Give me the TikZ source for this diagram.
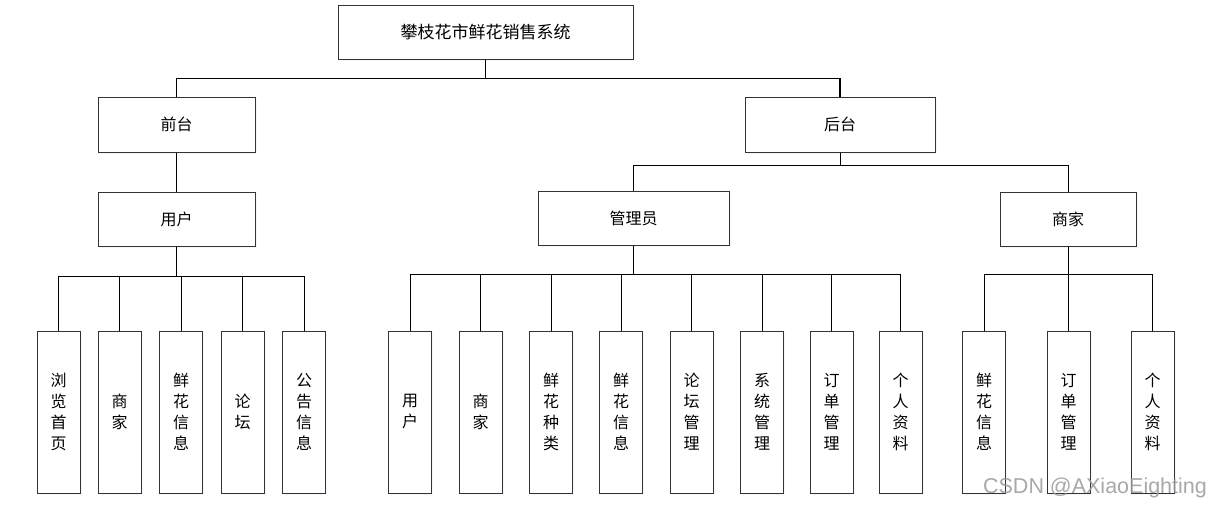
\documentclass[tikz,border=0pt]{standalone}
\usepackage{fontspec}
\setmainfont{Noto Sans CJK SC}
\newfontfamily\wmfont{Liberation Sans}
\usetikzlibrary{shadows}
\begin{document}
\begin{tikzpicture}[x=1pt,y=-1pt,
  box/.style={draw=black!80, line width=1pt, fill=white, inner sep=0pt, align=center,
    drop shadow={shadow xshift=1.5pt, shadow yshift=-1.5pt, fill=blue!5, opacity=0.7},
    font=\fontsize{16pt}{21pt}\selectfont},
  leaf/.style={box, minimum width=43pt, minimum height=162pt},
  link/.style={draw=black, line width=1pt},
  thick link/.style={draw=black, line width=1.8pt}
]
\useasboundingbox (0,0) rectangle (1212,507);
% top level
\node[box, minimum width=295pt, minimum height=54pt, font=\fontsize{17pt}{20pt}\selectfont] (root) at (485.5,32) {攀枝花市鲜花销售系统};
\node[box, minimum width=157pt, minimum height=55pt] (qt) at (176.5,124.5) {前台};
\node[box, minimum width=190pt, minimum height=55pt] (ht) at (840,124.5) {后台};
\node[box, minimum width=157pt, minimum height=54pt] (yh) at (176.5,219) {用户};
\node[box, minimum width=191pt, minimum height=54pt] (gly) at (633.5,218.5) {管理员};
\node[box, minimum width=136pt, minimum height=54pt] (sj) at (1068,219.5) {商家};
% user leaves
\node[leaf] (u1) at (58.5,412) {浏\\览\\首\\页};
\node[leaf] (u2) at (119.5,412) {商\\家};
\node[leaf] (u3) at (181,412) {鲜\\花\\信\\息};
\node[leaf] (u4) at (242.5,412) {论\\坛};
\node[leaf] (u5) at (304,412) {公\\告\\信\\息};
% admin leaves
\node[leaf] (a1) at (410,412) {用\\户};
\node[leaf] (a2) at (480.5,412) {商\\家};
\node[leaf] (a3) at (551,412) {鲜\\花\\种\\类};
\node[leaf] (a4) at (621,412) {鲜\\花\\信\\息};
\node[leaf] (a5) at (691.5,412) {论\\坛\\管\\理};
\node[leaf] (a6) at (762,412) {系\\统\\管\\理};
\node[leaf] (a7) at (831.5,412) {订\\单\\管\\理};
\node[leaf] (a8) at (900.5,412) {个\\人\\资\\料};
% merchant leaves
\node[leaf] (m1) at (984,412) {鲜\\花\\信\\息};
\node[leaf] (m2) at (1068.5,412) {订\\单\\管\\理};
\node[leaf] (m3) at (1152.5,412) {个\\人\\资\\料};
% connectors
\foreach \c in {qt,ht} \draw[thick link] (root.south) -- ++(0,19) -| (\c.north);
\draw[link] (qt.south) -- (yh.north);
\foreach \c in {gly,sj} \draw[link] (ht.south) -- ++(0,13) -| (\c.north);
\foreach \c in {u1,u2,u3,u4,u5} \draw[link] (yh.south) -- ++(0,30) -| (\c.north);
\foreach \c in {a1,a2,a3,a4,a5,a6,a7,a8} \draw[link] (gly.south) -- ++(0,28.5) -| (\c.north);
\foreach \c in {m1,m2,m3} \draw[link] (sj.south) -- ++(0,27.5) -| (\c.north);
% watermark
\node[text=black!40, opacity=0.85, font=\wmfont\fontsize{21.5pt}{23pt}\selectfont, inner sep=0pt] (wm) at (1095,488) {CSDN @AXiaoEighting};
\end{tikzpicture}
\end{document}
